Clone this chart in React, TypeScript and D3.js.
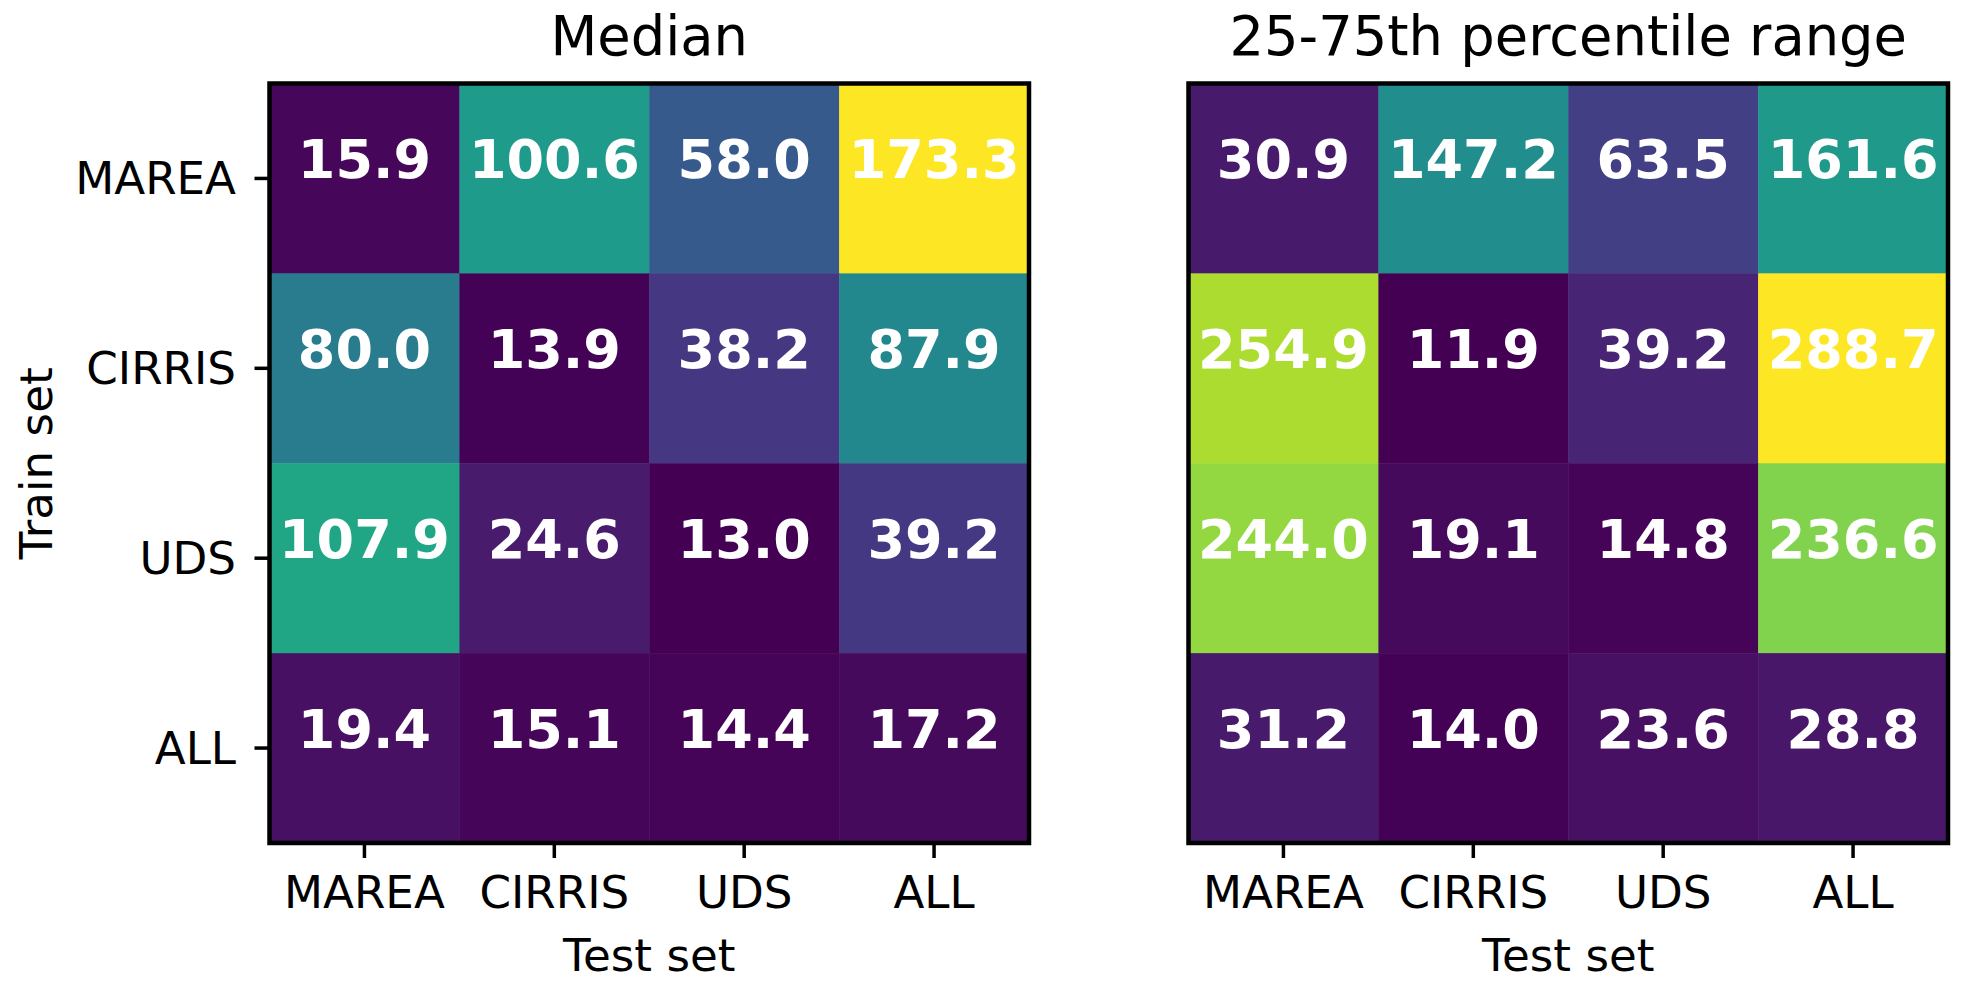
import React from "react";
import * as d3 from "d3";

const testSets = ["MAREA", "CIRRIS", "UDS", "ALL"];
const trainSets = ["MAREA", "CIRRIS", "UDS", "ALL"];

const medianValues = [
  [15.9, 100.6, 58.0, 173.3],
  [80.0, 13.9, 38.2, 87.9],
  [107.9, 24.6, 13.0, 39.2],
  [19.4, 15.1, 14.4, 17.2],
];

const iqrValues = [
  [30.9, 147.2, 63.5, 161.6],
  [254.9, 11.9, 39.2, 288.7],
  [244.0, 19.1, 14.8, 236.6],
  [31.2, 14.0, 23.6, 28.8],
];

const titles = ["Median", "25-75th percentile range"];
const xLabel = "Test set";
const yLabel = "Train set";

const W = 1965;
const H = 995;
const FONT = "'DejaVu Sans', sans-serif";

const panels = [
  { x0: 269.5, x1: 1029, values: medianValues, title: titles[0], showY: true },
  { x0: 1188.5, x1: 1948, values: iqrValues, title: titles[1], showY: false },
];
const Y0 = 83.5;
const Y1 = 843;

function Panel({ x0, x1, values, title, showY }: any) {
  const x = d3.scaleBand<string>().domain(testSets).range([x0, x1]).padding(0);
  const y = d3.scaleBand<string>().domain(trainSets).range([Y0, Y1]).padding(0);
  const flat = values.flat();
  const color = d3
    .scaleSequential(d3.interpolateViridis)
    .domain([d3.min(flat) as number, d3.max(flat) as number]);
  const cx = (x0 + x1) / 2;
  const bw = x.bandwidth();
  const bh = y.bandwidth();
  return (
    <g>
      {trainSets.map((tr, i) =>
        testSets.map((te, j) => (
          <rect
            key={`r${i}-${j}`}
            x={x(te)}
            y={y(tr)}
            width={bw + 0.5}
            height={bh + 0.5}
            fill={color(values[i][j])}
          />
        ))
      )}
      {trainSets.map((tr, i) =>
        testSets.map((te, j) => (
          <text
            key={`t${i}-${j}`}
            x={(x(te) as number) + bw / 2}
            y={(y(tr) as number) + bh / 2}
            textAnchor="middle"
            fontFamily={FONT}
            fontWeight="bold"
            fontSize={54}
            fill="#ffffff"
          >
            {values[i][j].toFixed(1)}
          </text>
        ))
      )}
      <rect x={x0} y={Y0} width={x1 - x0} height={Y1 - Y0} fill="none" stroke="#000" strokeWidth={4.5} />
      {testSets.map((te) => {
        const tx = (x(te) as number) + bw / 2;
        return (
          <g key={`xt${te}`}>
            <line x1={tx} x2={tx} y1={Y1} y2={Y1 + 15} stroke="#000" strokeWidth={3.5} />
            <text x={tx} y={908} textAnchor="middle" fontFamily={FONT} fontSize={45.2} fill="#000">
              {te}
            </text>
          </g>
        );
      })}
      <text x={cx} y={971} textAnchor="middle" fontFamily={FONT} fontSize={45.2} fill="#000">
        {xLabel}
      </text>
      <text x={cx} y={55} textAnchor="middle" fontFamily={FONT} fontSize={54.3} fill="#000">
        {title}
      </text>
      {showY &&
        trainSets.map((tr) => {
          const ty = (y(tr) as number) + bh / 2;
          return (
            <g key={`yt${tr}`}>
              <line x1={x0 - 15} x2={x0} y1={ty} y2={ty} stroke="#000" strokeWidth={3.5} />
              <text x={236} y={ty + 16} textAnchor="end" fontFamily={FONT} fontSize={45.2} fill="#000">
                {tr}
              </text>
            </g>
          );
        })}
      {showY && (
        <text
          transform={`translate(52, ${(Y0 + Y1) / 2}) rotate(-90)`}
          textAnchor="middle"
          fontFamily={FONT}
          fontSize={45.2}
          fill="#000"
        >
          {yLabel}
        </text>
      )}
    </g>
  );
}

export default function App() {
  return (
    <div style={{ position: "absolute", left: 0, top: 0 }}>
      <svg width={W} height={H} viewBox={`0 0 ${W} ${H}`} style={{ display: "block", background: "#fff" }}>
        <rect x={0} y={0} width={W} height={H} fill="#fff" />
        {panels.map((p, k) => (
          <Panel key={k} {...p} />
        ))}
      </svg>
    </div>
  );
}
